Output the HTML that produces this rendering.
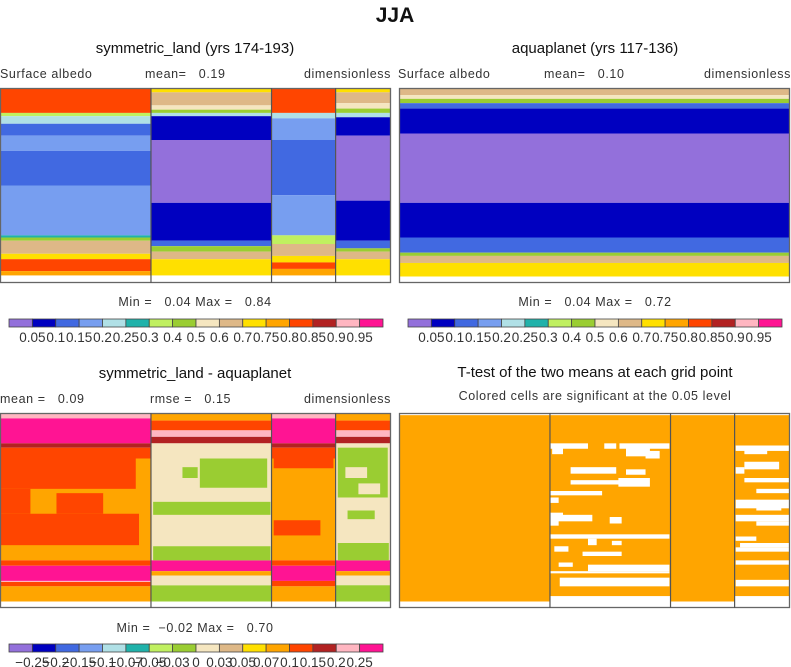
<!DOCTYPE html>
<html><head><meta charset="utf-8">
<style>
html,body{margin:0;padding:0;background:#fff;}
svg{display:block;font-family:"Liberation Sans","DejaVu Sans",sans-serif;}
.t{fill:#111;}
.s{fill:#333;font-size:12.5px;letter-spacing:0.6px;}
</style></head>
<body>
<svg id="fig" width="791" height="667" viewBox="0 0 791 667" xmlns="http://www.w3.org/2000/svg">
<text x="395" y="22" text-anchor="middle" font-size="21" font-weight="bold" class="t">JJA</text>

<text x="195" y="53" text-anchor="middle" font-size="15" class="t">symmetric_land (yrs 174-193)</text>
<text x="0" y="78" class="s">Surface albedo</text>
<text x="145" y="78" class="s" xml:space="preserve">mean=   0.19</text>
<text x="391" y="78" text-anchor="end" class="s">dimensionless</text>

<text x="595" y="53" text-anchor="middle" font-size="15" class="t">aquaplanet (yrs 117-136)</text>
<text x="398" y="78" class="s">Surface albedo</text>
<text x="544" y="78" class="s" xml:space="preserve">mean=   0.10</text>
<text x="791" y="78" text-anchor="end" class="s">dimensionless</text>

<text x="195" y="306" text-anchor="middle" class="s" xml:space="preserve">Min =   0.04 Max =   0.84</text>
<text x="595" y="306" text-anchor="middle" class="s" xml:space="preserve">Min =   0.04 Max =   0.72</text>

<text x="195" y="378" text-anchor="middle" font-size="15" class="t">symmetric_land - aquaplanet</text>
<text x="0" y="403" class="s" xml:space="preserve">mean =   0.09</text>
<text x="150" y="403" class="s" xml:space="preserve">rmse =   0.15</text>
<text x="391" y="403" text-anchor="end" class="s">dimensionless</text>
<text x="195" y="632" text-anchor="middle" class="s" xml:space="preserve">Min =  −0.02 Max =   0.70</text>

<text x="595" y="377" text-anchor="middle" font-size="15" class="t">T-test of the two means at each grid point</text>
<text x="595" y="400" text-anchor="middle" class="s">Colored cells are significant at the 0.05 level</text>
<g id="layer"></g>
</svg>
<script>
const colors=['#9370db','#0000c0','#4169e1','#779ef0','#b0e0e6','#20b2aa','#c0f060','#9acd32','#f5e6c0','#deb887','#ffe000','#ffa500','#ff4500','#b22222','#ffb6c1','#ff1493'];
const absLabels=['0.05','0.1','0.15','0.2','0.25','0.3','0.4','0.5','0.6','0.7','0.75','0.8','0.85','0.9','0.95'];
const diffLabels=['−0.25','−0.2','−0.15','−0.1','−0.07','−0.05','−0.03','0','0.03','0.05','0.07','0.1','0.15','0.2','0.25'];
// bands: [latTop, latBottom, levelIndex]
const landBandsA=[[90,67,12],[67,64,6],[64,57,4],[57,46,2],[46,32,3],[32,0,2],[0,-46,3],[-46,-48,5],[-48,-51,7],[-51,-63,9],[-63,-68,10],[-68,-79,12],[-79,-83,11]];
const oceanBandsB=[[90,86,10],[86,74,9],[74,70,8],[70,67,7],[67,64,4],[64,42,1],[42,-16,0],[-16,-51,1],[-51,-56,2],[-56,-61,7],[-61,-68,9],[-68,-83,10]];
const landBandsC=[[90,67,12],[67,62,4],[62,42,3],[42,-9,2],[-9,-46,3],[-46,-54,6],[-54,-65,9],[-65,-71,10],[-71,-77,12],[-77,-83,11]];
const oceanBandsD=[[90,86,10],[86,76,9],[76,71,8],[71,67,7],[67,63,4],[63,46,1],[46,-14,0],[-14,-51,1],[-51,-58,2],[-58,-61,7],[-61,-68,9],[-68,-83,10]];
const aquaBands=[[90,83.5,9],[83.5,80,8],[80,76,7],[76,71,2],[71,48,1],[48,-16,0],[-16,-48,1],[-48,-62,2],[-62,-65,7],[-65,-71.5,9],[-71.5,-84,10]];
const diffA=[[90,85,14],[85,62,15],[62,58,13],[58,48,12],[48,-46,11],[-46,-51,12],[-51,-65,15],[-65,-66,14],[-66,-70,12],[-70,-84,11]];
const diffB=[[90,83,11],[83,74,12],[74,68,14],[68,62,13],[62,-46,8],[-46,-56,15],[-56,-60,11],[-60,-69,8],[-69,-84,7]];
const diffC=[[90,85,14],[85,62,15],[62,58,13],[58,48,12],[48,-46,11],[-46,-51,12],[-51,-65,15],[-65,-70,12],[-70,-84,11]];
const diffD=diffB;
// extra regions: [latTop, latBottom, lonLeft, lonRight, level]
const diffBlobs=[[54,20,0,125,12],[20,-3,0,28,12],[16,-3,52,95,12],[-3,-32,0,128,12],
 [54,39,252,307,12],[-9,-23,252,295,12],
 [8,-4,141,249,7],[48,21,184,246,7],[40,30,168,182,7],[-33,-46,141,249,7],[-60,-69,141,249,8],
 [58,12,311,357,7],[40,30,318,338,8],[25,15,330,350,8],[-30,-46,311,358,7],[0,-8,320,345,7]];
// t-test insignificant cells: [latTop, latBottom, lonLeft, lonRight]
const wCells=[[62,57,139,174],[60,52,141,151],[62,57,189,200],[62,57,203,249],[58,50,209,231],[55,48,227,240],
 [40,34,158,200],[38,33,209,227],[28,24,158,222],[30,22,202,231],[18,14,139,187],[12,7,139,147],
 [-2,-6,139,151],[-4,-10,139,178],[-6,-12,194,205],[-8,-14,139,147],
 [-22,-26,139,249],[-26,-32,174,182],[-28,-32,196,205],[-33,-38,143,156],[-38,-42,169,205],
 [-48,-52,147,160],[-50,-56,174,249],[-56,-58,139,249],[-62,-70,148,249],
 [60,55,310,360],[58,52,318,339],[45,38,318,350],[40,34,310,318],[30,26,318,360],[20,16,329,360],
 [10,2,310,360],[8,0,329,352],[-4,-10,310,360],[-10,-14,329,360],[-24,-28,310,329],[-30,-34,314,360],[-34,-38,310,360],[-46,-50,310,360],[-64,-70,310,360]];

const NS='http://www.w3.org/2000/svg';
const layer=document.getElementById('layer');
function mk(tag,attrs,parent){const e=document.createElementNS(NS,tag);for(const k in attrs)e.setAttribute(k,attrs[k]);(parent||layer).appendChild(e);return e;}

function yScale(p,lat){return p.y0+(90-lat)/180*(p.y1-p.y0);}
function xScale(p,lon){return p.x0+lon/360*(p.x1-p.x0);}

function drawBands(p,bands,lon0,lon1,name){
  const g=mk('g',{});
  
  
  bands.forEach(b=>{
    const ya=yScale(p,b[0]),yb=yScale(p,b[1]);
    const r=mk('rect',{x:xScale(p,lon0),y:ya,width:xScale(p,lon1)-xScale(p,lon0),height:yb-ya,fill:colors[b[2]]},g);
    
    
  });
}
function drawFrame(p,seps,name){
  const f=mk('rect',{x:p.x0+0.5,y:p.y0+0.5,width:p.x1-p.x0-1,height:p.y1-p.y0-1,fill:'none',stroke:'#666','stroke-width':1.3});
  
  
  seps.forEach(l=>{
    const x=xScale(p,l);
    const s=mk('line',{x1:x,x2:x,y1:p.y0,y2:p.y1,stroke:'#555','stroke-width':1.2});
    
    
  });
}
function colorbar(cx,cy,w,h,labels,name){
  const g=mk('g',{});
  
  
  const bw=w/colors.length;
  colors.forEach((c,i)=>{
    const r=mk('rect',{x:cx+i*bw,y:cy,width:bw,height:h,fill:c,stroke:'#444','stroke-width':0.8},g);
    
    
  });
  labels.forEach((t,i)=>{
    const tx=mk('text',{x:cx+(i+1)*bw,y:cy+h+15,'text-anchor':'middle','font-size':'13.5',fill:'#333'},g);
    tx.textContent=t;
    
    
  });
}
const seps=[139,250,309];
const p1={x0:0,x1:391,y0:88,y1:283};
const p2={x0:399,x1:790,y0:88,y1:283};
const p3={x0:0,x1:391,y0:413,y1:608};
const p4={x0:399,x1:790,y0:413,y1:608};

drawBands(p1,landBandsA,0,139,'panel1-land-a');
drawBands(p1,oceanBandsB,139,250,'panel1-ocean-b');
drawBands(p1,landBandsC,250,309,'panel1-land-c');
drawBands(p1,oceanBandsD,309,360,'panel1-ocean-d');
drawFrame(p1,seps,'panel1-frame');

drawBands(p2,aquaBands,0,360,'panel2-bands');
drawFrame(p2,[],'panel2-frame');

drawBands(p3,diffA,0,139,'panel3-land-a');
drawBands(p3,diffB,139,250,'panel3-ocean-b');
drawBands(p3,diffC,250,309,'panel3-land-c');
drawBands(p3,diffD,309,360,'panel3-ocean-d');
diffBlobs.forEach(b=>{
  const r=mk('rect',{x:xScale(p3,b[2]),y:yScale(p3,b[0]),width:xScale(p3,b[3])-xScale(p3,b[2]),height:yScale(p3,b[1])-yScale(p3,b[0]),fill:colors[b[4]]});
  
  
});
drawFrame(p3,seps,'panel3-frame');

const bg=mk('rect',{x:p4.x0,y:yScale(p4,88),width:p4.x1-p4.x0,height:yScale(p4,-84)-yScale(p4,88),fill:'#ffa500'});


[[139,250],[309,360]].forEach(s=>{
  const r=mk('rect',{x:xScale(p4,s[0]),y:yScale(p4,-79),width:xScale(p4,s[1])-xScale(p4,s[0]),height:yScale(p4,-90)-yScale(p4,-79),fill:'#fff'});
  
  
});
wCells.forEach(c=>{
  const r=mk('rect',{x:xScale(p4,c[2]),y:yScale(p4,c[0]),width:xScale(p4,c[3])-xScale(p4,c[2]),height:yScale(p4,c[1])-yScale(p4,c[0]),fill:'#fff'});
  
  
});
drawFrame(p4,[139,250,309],'panel4-frame');

colorbar(9,319,374,8,absLabels,'panel1-colorbar');
colorbar(408,319,374,8,absLabels,'panel2-colorbar');
colorbar(9,644,374,8,diffLabels,'panel3-colorbar');
</script>
</body></html>
